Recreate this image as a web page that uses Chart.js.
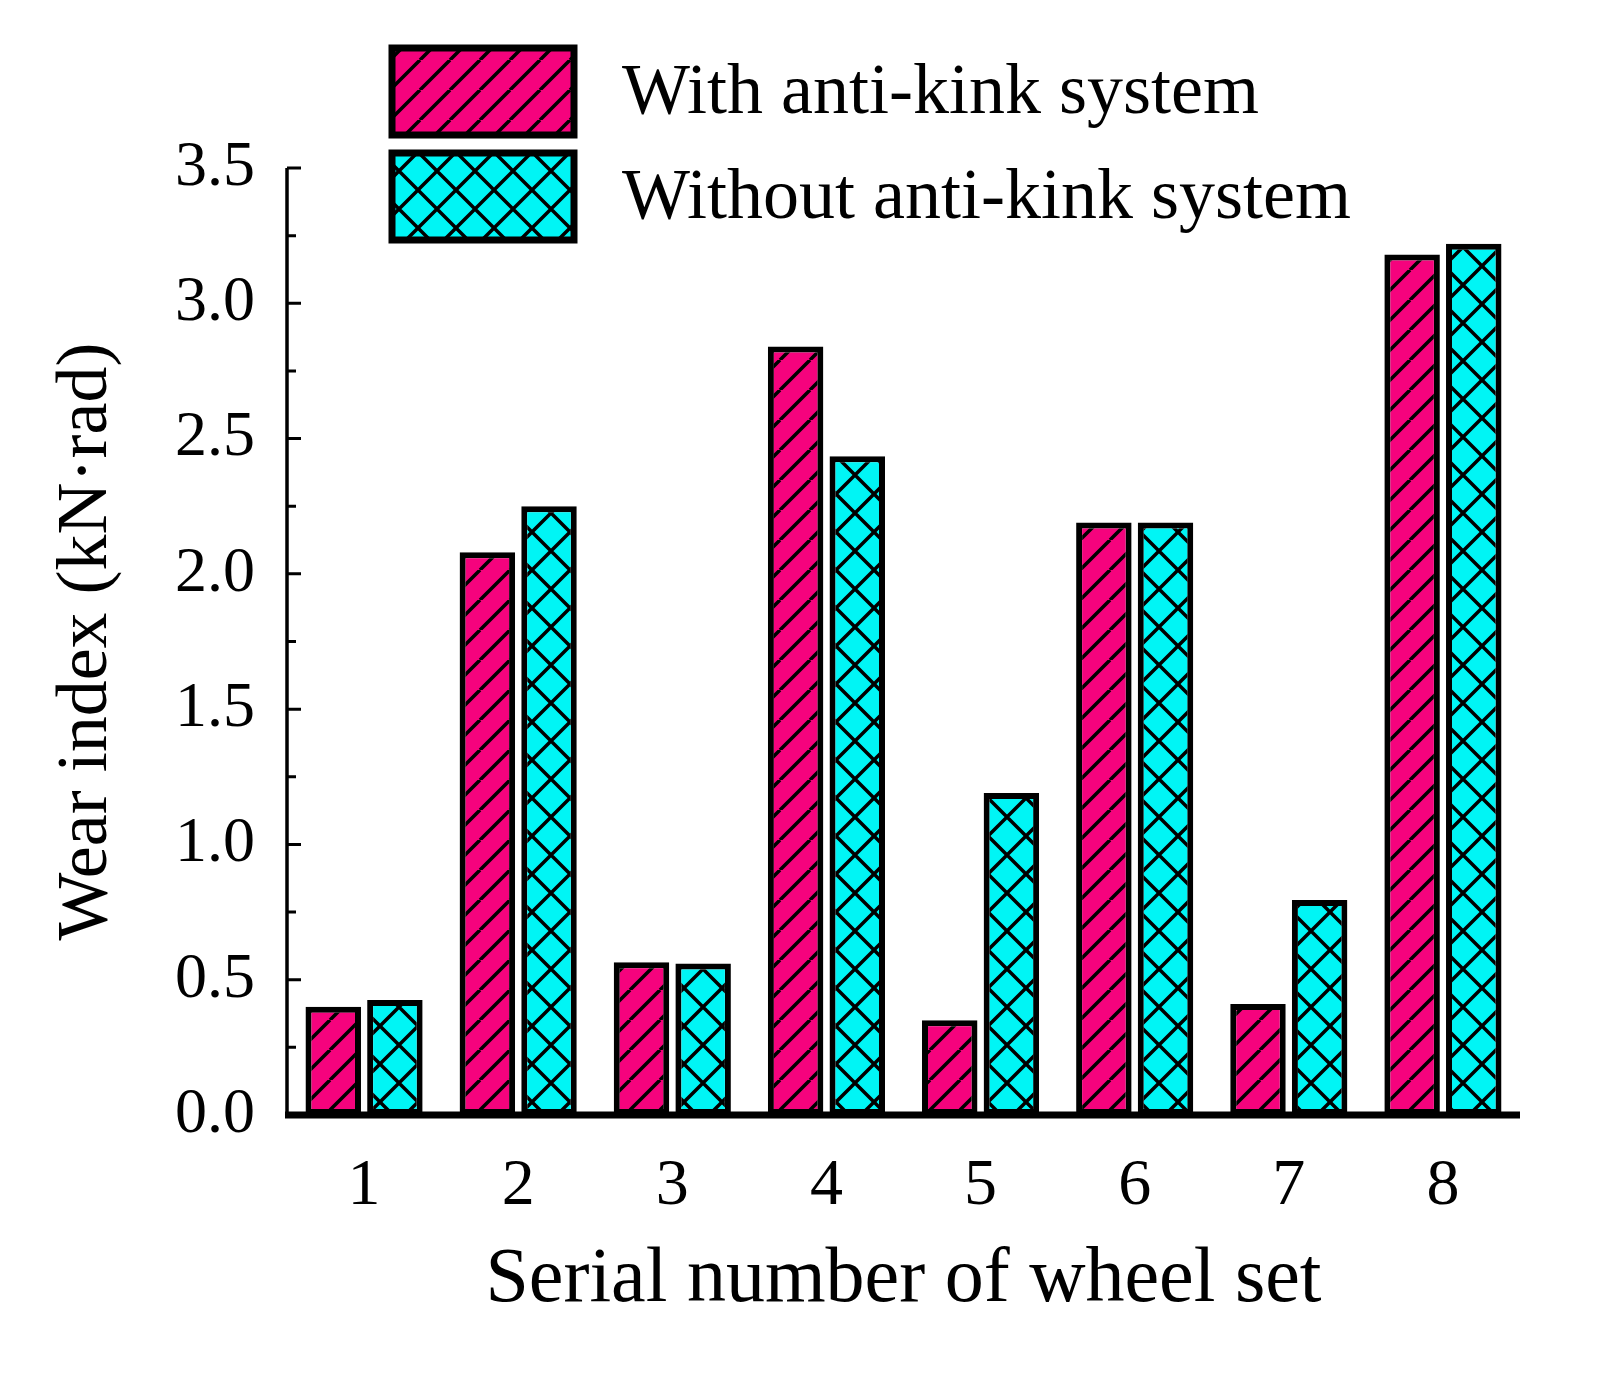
<!DOCTYPE html>
<html><head><meta charset="utf-8">
<script src="https://cdn.jsdelivr.net/npm/chart.js@4"></script>
<style>html,body{margin:0;padding:0;background:#fff}</style>
</head><body>
<div style="width:1617px;height:1376px"><canvas id="c" width="1617" height="1376"></canvas></div>
<script>
const categories = ['1','2','3','4','5','6','7','8'];
const withAntiKink = [0.40, 2.08, 0.565, 2.84, 0.35, 2.19, 0.41, 3.18];
const withoutAntiKink = [0.425, 2.25, 0.56, 2.435, 1.19, 2.19, 0.795, 3.22];
const seriesNames = ['With anti-kink system', 'Without anti-kink system'];
const yTicks = [0, 0.5, 1.0, 1.5, 2.0, 2.5, 3.0, 3.5];

function hatch(color, cross){
  const s = cross ? 38 : 30;
  const p = document.createElement('canvas'); p.width = s; p.height = s;
  const g = p.getContext('2d');
  g.fillStyle = color; g.fillRect(0,0,s,s);
  g.strokeStyle = '#000'; g.lineWidth = 3.5;
  g.beginPath();
  for (let k=-1;k<=1;k++){ g.moveTo(k*s, s); g.lineTo(k*s+s, 0); }
  if (cross) for (let k=-1;k<=1;k++){ g.moveTo(k*s, 0); g.lineTo(k*s+s, s); }
  g.stroke();
  return document.getElementById('c').getContext('2d').createPattern(p,'repeat');
}
const pinkPat = hatch('#f5037d', false);
const cyanPat = hatch('#00f5f5', true);
const F = 'Liberation Serif, Times New Roman, serif';

const deco = {
  id:'deco',
  afterDraw(chart){
    const ctx = chart.ctx, y = chart.scales.y, a = chart.chartArea;
    ctx.save();
    ctx.strokeStyle = '#000'; ctx.lineWidth = 3;
    ctx.beginPath();
    for (let v=0; v<=3.5001; v+=0.25){
      const py = y.getPixelForValue(v);
      const len = (Math.round(v*4)%2===0) ? 14 : 9;
      ctx.moveTo(a.left, py); ctx.lineTo(a.left+len, py);
    }
    ctx.stroke();
    ctx.lineWidth = 3.5; ctx.beginPath(); ctx.moveTo(a.left, a.top); ctx.lineTo(a.left, a.bottom); ctx.stroke();
    ctx.lineWidth = 7; ctx.beginPath(); ctx.moveTo(a.left-2, a.bottom); ctx.lineTo(a.right, a.bottom); ctx.stroke();
    const items = [[pinkPat, seriesNames[0], 48], [cyanPat, seriesNames[1], 153]];
    ctx.font = '72px ' + F; ctx.textBaseline = 'middle';
    items.forEach(([pat, txt, top])=>{
      ctx.fillStyle = pat; ctx.fillRect(392, top, 182, 87);
      ctx.lineWidth = 7; ctx.strokeStyle = '#000'; ctx.strokeRect(392, top, 182, 87);
      ctx.fillStyle = '#000'; ctx.fillText(txt, 622, top + 46);
    });
    ctx.restore();
  }
};

new Chart(document.getElementById('c'), {
  type:'bar',
  data:{ labels: categories, datasets:[
    {label: seriesNames[0], data: withAntiKink, backgroundColor: pinkPat, borderColor:'#000', borderWidth:6, borderSkipped:false, inflateAmount:0},
    {label: seriesNames[1], data: withoutAntiKink, backgroundColor: cyanPat, borderColor:'#000', borderWidth:6, borderSkipped:false, inflateAmount:0}
  ]},
  options:{
    responsive:false, animation:false, devicePixelRatio:1,
    layout:{padding:{left:40, top:168, right:97, bottom:45}},
    plugins:{legend:{display:false}, tooltip:{enabled:false}},
    scales:{
      x:{ grid:{display:false}, border:{display:false},
          categoryPercentage:0.97, barPercentage:1.0,
          ticks:{font:{family:F,size:66}, color:'#000', padding:24},
          title:{display:true, text:'Serial number of wheel set', font:{family:F,size:78}, color:'#000', padding:{top:-14}},
          afterFit(s){ s.height = 216; } },
      y:{ min:0, max:3.5, grid:{display:false}, border:{display:false},
          afterBuildTicks(s){ s.ticks = yTicks.map(v=>({value:v})); },
          ticks:{font:{family:F,size:64}, color:'#000', padding:24, callback:v=>Number(v).toFixed(1)},
          title:{display:true, text:'Wear index (kN·rad)', font:{family:F,size:72}, color:'#000', padding:{bottom:6}},
          afterFit(s){ s.width = 247; } }
    }
  },
  plugins:[deco]
});
</script>
</body></html>
